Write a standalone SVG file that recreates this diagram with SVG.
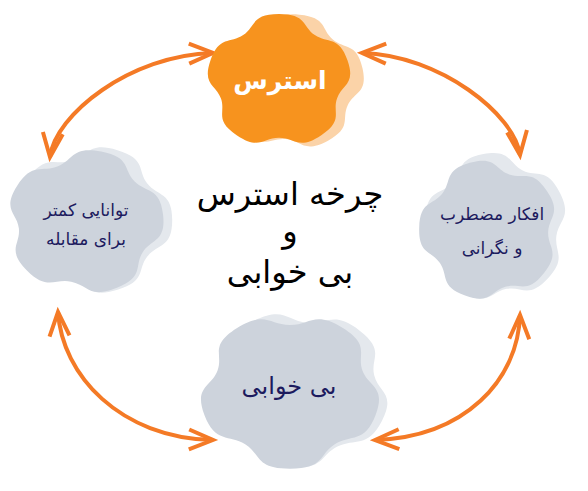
<svg xmlns="http://www.w3.org/2000/svg" width="588" height="491" viewBox="0 0 588 491">
<style>
.arrow{fill:none;stroke:#F47A26;stroke-width:4;stroke-linecap:butt;stroke-linejoin:miter}
.head{fill:none;stroke:#F47A26;stroke-width:4;stroke-linejoin:miter}
.gray{fill:#CDD3DC}
.grayShadow{fill:#E4E8ED}
.orange{fill:#F7931E}
.orangeShadow{fill:#FBD3A8}
.nodeText{font-family:"DejaVu Sans","Noto Sans",sans-serif;fill:#1C1A5E;text-anchor:middle}
.title{font-family:"DejaVu Sans","Noto Sans",sans-serif;fill:#000;text-anchor:middle}
</style>
<defs>
<path id="blob" d="M 61,0 C 61,16 74.71,19.69 58.25,42.34 C 41.79,64.99 34.07,53.07 18.85,58.01 C 3.63,62.95 4.38,77.12 -22.25,68.47 C -48.88,59.82 -39.94,48.81 -49.35,35.87 C -58.76,22.93 -72,28 -72,0 C -72,-28 -58.76,-22.93 -49.35,-35.87 C -39.94,-48.81 -48.88,-59.82 -22.25,-68.47 C 4.38,-77.12 3.63,-62.95 18.85,-58.01 C 34.07,-53.07 41.79,-64.99 58.25,-42.34 C 74.71,-19.69 61,-16 61,0 Z"/>
<marker id="ah" markerUnits="userSpaceOnUse" markerWidth="40" markerHeight="40" refX="0" refY="0" orient="auto-start-reverse" overflow="visible">
<path class="head" d="M -24,-10 L 0,0 L -24,10"/>
</marker>
</defs>
<g id="connectors">
<path class="arrow" d="M 50,157 C 55,115 130,55 213,53" marker-start="url(#ah)" marker-end="url(#ah)"/>
<path class="arrow" d="M 362,53 C 440,55 515,115 520,155" marker-start="url(#ah)" marker-end="url(#ah)"/>
<path class="arrow" d="M 58,312 C 62,375 120,438 213,440" marker-start="url(#ah)" marker-end="url(#ah)"/>
<path class="arrow" d="M 520,315 C 518,380 465,437 375,440" marker-start="url(#ah)" marker-end="url(#ah)"/>
</g>
<g id="node-stress">
<use href="#blob" class="orangeShadow" transform="translate(292,82) scale(1.0,0.94) rotate(24)"/>
<use href="#blob" class="orange" transform="translate(279,81) scale(1.0,0.93) rotate(18)"/>
<text x="280" y="89" font-size="25" font-weight="bold" fill="#FFFFFF" font-family="DejaVu Sans, Noto Sans, sans-serif" text-anchor="middle">استرس</text>
</g>
<g id="node-thoughts">
<use href="#blob" class="grayShadow" transform="translate(496,227) scale(1.0,1.03) rotate(8)"/>
<use href="#blob" class="gray" transform="translate(489,230) scale(0.97,0.97) rotate(2)"/>
<text class="nodeText" x="492" y="220" font-size="17">افکار مضطرب</text>
<text class="nodeText" x="492" y="254" font-size="17">و نگرانی</text>
</g>
<g id="node-coping">
<use href="#blob" class="grayShadow" transform="translate(93,220) scale(1.1,1.02) rotate(-36)"/>
<use href="#blob" class="gray" transform="translate(85,222) scale(1.09,1.0) rotate(-42)"/>
<text class="nodeText" x="86" y="216" font-size="17">توانایی کمتر</text>
<text class="nodeText" x="86" y="245" font-size="17">برای مقابله</text>
</g>
<g id="node-insomnia">
<use href="#blob" class="grayShadow" transform="translate(299,389) scale(1.26,1.09) rotate(-12)"/>
<use href="#blob" class="gray" transform="translate(290,391) scale(1.25,1.08) rotate(-18)"/>
<text class="nodeText" x="289" y="394" font-size="24">بی خوابی</text>
</g>
<g id="title">
<text class="title" x="290" y="205" font-size="32">چرخه استرس</text>
<text class="title" x="290" y="242" font-size="32">و</text>
<text class="title" x="290" y="283" font-size="32">بی خوابی</text>
</g>
</svg>
